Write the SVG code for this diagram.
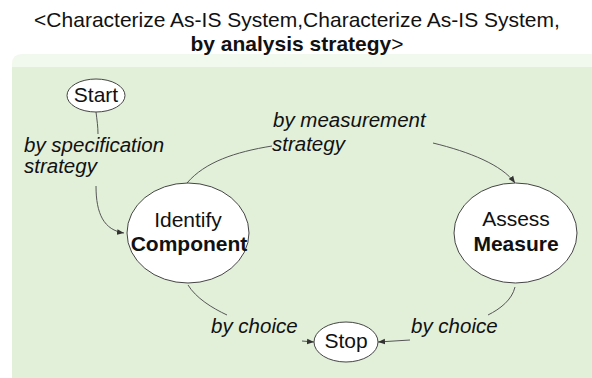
<svg xmlns="http://www.w3.org/2000/svg" width="592" height="378" viewBox="0 0 592 378">
<style>
text{font-family:"Liberation Sans",Arial,sans-serif;fill:#111;}
.title{font-size:21px;text-anchor:middle;}
.node{fill:#fff;stroke:#444;stroke-width:1;}
.nt{font-size:21px;text-anchor:middle;}
.b{font-weight:bold;}
.lbl{font-size:20.5px;font-style:italic;}
.edge{fill:none;stroke:#555;stroke-width:1;}
</style>
<defs>
<marker id="ah" viewBox="0 0 10 10" refX="10" refY="5" markerWidth="7" markerHeight="7" orient="auto" markerUnits="userSpaceOnUse">
<path d="M0,1 L10,5 L0,9 z" fill="#333"/>
</marker>
</defs>
<g id="panel">
<path d="M12,64 Q12,54 22,54 L592,54 L592,378 L12,378 z" fill="#f1f8ed"/>
<rect x="12" y="67" width="580" height="311" fill="#e2f0d9"/>
</g>
<g id="title">
<text class="title" x="297" y="27">&lt;Characterize As-IS System,Characterize As-IS System,</text>
<text class="title" x="297" y="51"><tspan class="b">by analysis strategy</tspan>&gt;</text>
</g>
<g id="connectors">
<path class="edge" d="M96,112 C97,120 98,127 98,134"/>
<path class="edge" d="M96,186 C96,214 104,230 124,233" marker-end="url(#ah)"/>
<path class="edge" d="M187,183 C205,162 235,152 272,146"/>
<path class="edge" d="M433,143 C470,152 502,165 515,183" marker-end="url(#ah)"/>
<path class="edge" d="M188,285 C196,298 212,308 227,315"/>
<path class="edge" d="M302,341 L314,342" marker-end="url(#ah)"/>
<path class="edge" d="M515,287 C512,300 500,309 488,315"/>
<path class="edge" d="M410,340 L378,342" marker-end="url(#ah)"/>
</g>
<g id="labels">
<text class="lbl" x="24" y="152">by specification</text>
<text class="lbl" x="24" y="173">strategy</text>
<text class="lbl" x="273" y="127">by measurement</text>
<text class="lbl" x="272" y="151">strategy</text>
<text class="lbl" x="211" y="333">by choice</text>
<text class="lbl" x="411" y="333">by choice</text>
</g>
<g id="start">
<ellipse class="node" cx="96" cy="95.5" rx="29" ry="16.5"/>
<text class="nt" x="96" y="102">Start</text>
</g>
<g id="identify">
<ellipse class="node" cx="188" cy="233" rx="61" ry="50"/>
<text class="nt" x="188" y="227">Identify</text>
<text class="nt b" x="189" y="251">Component</text>
</g>
<g id="assess">
<ellipse class="node" cx="515.5" cy="233" rx="61.5" ry="50"/>
<text class="nt" x="516" y="226">Assess</text>
<text class="nt b" x="516" y="251">Measure</text>
</g>
<g id="stop">
<ellipse class="node" cx="346" cy="342" rx="32" ry="20"/>
<text class="nt" x="346" y="348">Stop</text>
</g>
</svg>
